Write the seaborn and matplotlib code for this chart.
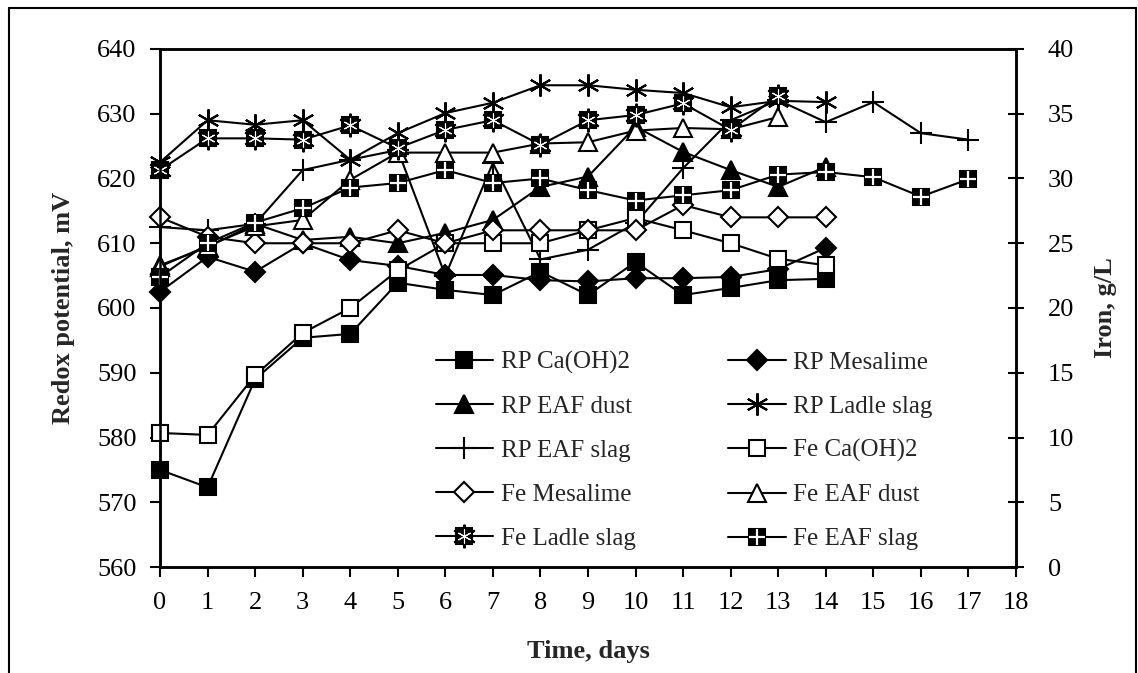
import matplotlib
matplotlib.use("Agg")
import matplotlib.pyplot as plt
import seaborn as sns

# time axis (days)
days_13 = list(range(14))
days_14 = list(range(15))
days_17 = list(range(18))

# redox potential, mV (left axis)
rp_caoh2 = [575.0, 572.3, 589.0, 595.4, 596.0, 603.9, 602.8, 602.0, 605.6, 602.0, 607.1, 602.0, 603.1, 604.3, 604.5]
rp_mesalime = [602.5, 607.9, 605.6, 610.0, 607.4, 606.5, 605.1, 605.1, 604.3, 604.1, 604.6, 604.6, 604.8, 606.0, 609.3]
rp_eaf_dust = [606.6, 609.4, 613.0, 610.5, 611.0, 610.0, 611.6, 613.6, 618.7, 620.3, 628.0, 624.1, 621.3, 618.7, 621.8]
rp_ladle_slag = [622.5, 629.0, 628.3, 629.0, 622.9, 627.0, 630.1, 631.7, 634.4, 634.4, 633.7, 633.2, 631.0, 632.0, 631.8]
rp_eaf_slag = [612.5, 612.0, 613.0, 621.3, 622.9, 624.4, 605.0, 622.4, 607.5, 609.0, 613.1, 621.6, 629.0, 632.1, 628.7,
               631.8, 627.0, 626.0]

# iron, g/L (right axis)
fe_caoh2 = [10.35, 10.2, 14.8, 18.07, 20.0, 22.9, 25.0, 25.0, 25.0, 26.0, 26.95, 26.0, 25.0, 23.8, 23.3]
fe_mesalime = [27.0, 25.5, 25.0, 25.0, 25.0, 26.0, 25.0, 26.0, 26.0, 26.0, 26.0, 27.95, 27.0, 27.0, 27.0]
fe_eaf_dust = [23.2, 24.8, 26.3, 26.8, 29.9, 32.0, 32.0, 32.0, 32.7, 32.8, 33.7, 33.9, 33.8, 34.75]
fe_ladle_slag = [30.65, 33.1, 33.1, 33.0, 34.1, 32.35, 33.75, 34.5, 32.6, 34.5, 34.9, 35.8, 33.75, 36.4]
fe_eaf_slag = [22.4, 25.0, 26.6, 27.7, 29.3, 29.65, 30.65, 29.65, 30.0, 29.1, 28.3, 28.7, 29.1, 30.3, 30.5,
               30.1, 28.6, 29.95]

sns.set_style("ticks")
plt.rcParams['font.family'] = ['Liberation Serif', 'DejaVu Serif']

fig = plt.figure(figsize=(11.38, 6.73), dpi=100)
ax = fig.add_axes([0.1406, 0.1575, 0.7522, 0.7697])
ax2 = ax.twinx()

ASTER = (6, 2, 0)


def draw(axis, x, y, label, marker, ms, mfc, extra=None):
    sns.lineplot(x=x, y=y, ax=axis, color='black', lw=1.5, marker=marker, markersize=ms,
                 markerfacecolor=mfc, markeredgecolor='black', markeredgewidth=1.5,
                 clip_on=False, label=label, legend=False)
    main = axis.lines[-1]
    if extra is None:
        return main
    parts = [main]
    for mk, size, col, mew in extra:
        ln, = axis.plot(x, y, ls='none', marker=mk, markersize=size, color=col,
                        markeredgecolor=col, markeredgewidth=mew, clip_on=False)
        parts.append(ln)
    return tuple(parts)


h = {}
h['RP Ca(OH)2'] = draw(ax, days_14, rp_caoh2, 'RP Ca(OH)2', 's', 12, 'black')
h['RP Mesalime'] = draw(ax, days_14, rp_mesalime, 'RP Mesalime', 'D', 10.5, 'black')
h['RP EAF dust'] = draw(ax, days_14, rp_eaf_dust, 'RP EAF dust', '^', 13, 'black')
h['RP Ladle slag'] = draw(ax, days_14, rp_ladle_slag, 'RP Ladle slag', ASTER, 16, 'black')
h['RP EAF slag'] = draw(ax, days_17, rp_eaf_slag, 'RP EAF slag', '+', 16, 'black')

h['Fe Ca(OH)2'] = draw(ax2, days_14, fe_caoh2, 'Fe Ca(OH)2', 's', 12, 'white')
h['Fe Mesalime'] = draw(ax2, days_14, fe_mesalime, 'Fe Mesalime', 'D', 10.5, 'white')
h['Fe EAF dust'] = draw(ax2, days_13, fe_eaf_dust, 'Fe EAF dust', '^', 13, 'white')
h['Fe Ladle slag'] = draw(ax2, days_13, fe_ladle_slag, 'Fe Ladle slag', 's', 12, 'black',
                          extra=[(ASTER, 17, 'black', 1.5), (ASTER, 10, 'white', 0.8)])
h['Fe EAF slag'] = draw(ax2, days_17, fe_eaf_slag, 'Fe EAF slag', 's', 12, 'black',
                        extra=[('+', 11, 'white', 1.6)])

# axes
ax.set_xlim(0, 18)
ax.set_ylim(560, 640)
ax2.set_ylim(0, 40)
ax.set_xticks(range(0, 19))
ax.set_yticks(range(560, 641, 10))
ax2.set_yticks(range(0, 41, 5))

for a in (ax, ax2):
    for sp in a.spines.values():
        sp.set_linewidth(1.8)
        sp.set_color('black')
        sp.set_visible(True)

ax.tick_params(axis='both', direction='out', length=7, width=1.5, labelsize=19, colors='black')
ax2.tick_params(axis='y', direction='inout', length=12, width=1.5, labelsize=19, colors='black', pad=17)
ax.tick_params(axis='x', pad=11)
ax.tick_params(axis='y', pad=10)

ax.set_xlabel('Time, days', fontsize=19, fontweight='bold', labelpad=19)
ax.set_ylabel('Redox potential, mV', fontsize=19, fontweight='bold', labelpad=16)
ax2.set_ylabel('Iron, g/L', fontsize=19, fontweight='bold', labelpad=14)

order = ['RP Ca(OH)2', 'RP EAF dust', 'RP EAF slag', 'Fe Mesalime', 'Fe Ladle slag',
         'RP Mesalime', 'RP Ladle slag', 'Fe Ca(OH)2', 'Fe EAF dust', 'Fe EAF slag']
ax2.legend([h[k] for k in order], order, ncol=2, frameon=False, fontsize=18,
           loc='upper left', bbox_to_anchor=(0.322, 0.417), borderaxespad=0, borderpad=0,
           handlelength=2.3, handletextpad=0.3, columnspacing=3.7, labelspacing=0.86)

# outer frame of the figure
for xs, ys in [((0.008, 0.008), (0.0, 0.988)), ((0.008, 0.998), (0.988, 0.988)), ((0.998, 0.998), (0.0, 0.988))]:
    fig.add_artist(plt.Line2D(xs, ys, color='black', lw=1.5, transform=fig.transFigure))

fig.savefig('out.png', dpi=100)
